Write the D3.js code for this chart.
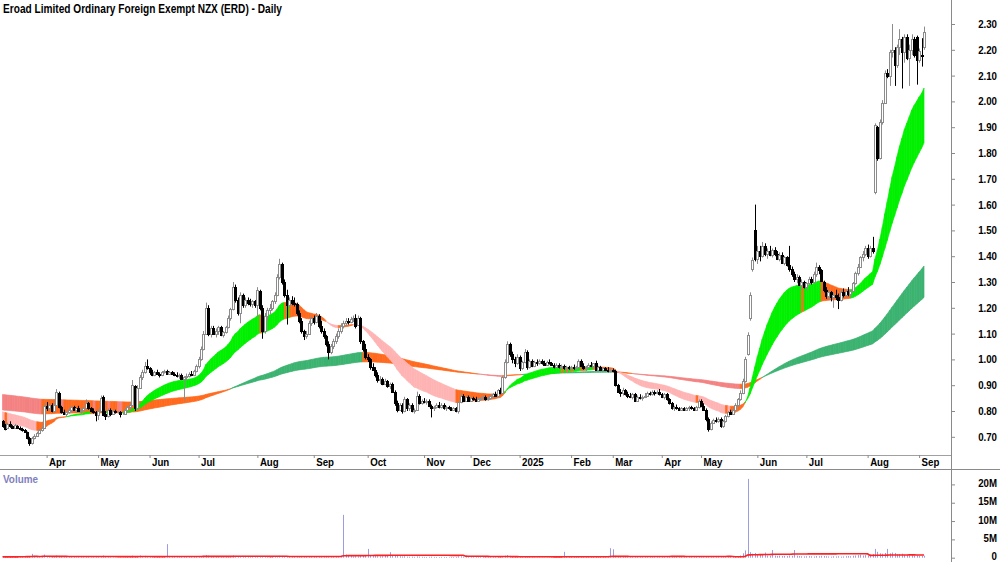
<!DOCTYPE html>
<html>
<head>
<meta charset="utf-8">
<script src="https://cdn.jsdelivr.net/npm/d3@7"></script>
<style>
body { margin: 0; background: #fff; }
svg { display: block; }
text { font-family: "Liberation Sans", Arial, sans-serif; font-weight: bold; }
</style>
</head>
<body>
<script>
const width = 1000,
      height = 562,
      axisX = 951,
      priceBottom = 455,
      volTop = 469;

const title = "Eroad Limited Ordinary Foreign Exempt NZX (ERD) - Daily";

const open = [
0.760,0.740,0.735,0.750,0.740,0.735,0.740,0.735,0.730,0.725,
0.720,0.695,0.675,0.695,0.705,0.715,0.725,0.735,0.820,0.810,
0.825,0.800,0.825,0.870,0.815,0.795,0.790,0.795,0.805,0.815,
0.805,0.810,0.800,0.805,0.810,0.830,0.810,0.800,0.795,0.785,
0.800,0.855,0.790,0.780,0.805,0.790,0.800,0.795,0.795,0.790,
0.790,0.805,0.815,0.825,0.895,0.810,0.890,0.930,0.950,0.975,
0.965,0.950,0.940,0.950,0.945,0.940,0.950,0.955,0.945,0.950,
0.945,0.940,0.935,0.940,0.925,0.930,0.935,0.945,0.940,0.955,
0.975,1.000,1.040,1.100,1.200,1.100,1.120,1.100,1.110,1.125,
1.095,1.105,1.125,1.160,1.195,1.280,1.230,1.180,1.250,1.210,
1.230,1.220,1.215,1.225,1.210,1.265,1.200,1.110,1.170,1.190,
1.200,1.225,1.250,1.320,1.370,1.300,1.250,1.210,1.230,1.220,
1.215,1.180,1.150,1.110,1.090,1.100,1.140,1.160,1.145,1.170,
1.130,1.110,1.090,1.060,1.030,1.050,1.070,1.090,1.110,1.130,
1.140,1.150,1.145,1.155,1.160,1.135,1.160,1.070,1.040,1.010,
1.000,0.970,0.960,0.940,0.920,0.925,0.905,0.915,0.895,0.905,
0.875,0.830,0.805,0.825,0.800,0.845,0.810,0.825,0.800,0.805,
0.860,0.830,0.840,0.835,0.840,0.820,0.810,0.815,0.825,0.815,
0.825,0.810,0.815,0.810,0.805,0.810,0.800,0.835,0.860,0.840,
0.855,0.840,0.850,0.845,0.840,0.845,0.850,0.855,0.845,0.850,
0.860,0.865,0.860,0.880,0.870,0.930,0.990,1.060,1.020,1.000,
0.985,1.010,0.965,0.990,1.030,0.970,0.995,0.975,0.990,0.985,
0.995,0.985,0.980,0.990,0.985,0.980,0.970,0.980,0.970,0.975,
0.965,0.970,0.965,0.970,0.965,0.970,0.995,0.975,0.965,0.970,
0.980,0.975,0.985,0.960,0.970,0.960,0.965,0.960,0.955,0.960,
0.955,0.900,0.875,0.870,0.880,0.865,0.860,0.855,0.865,0.840,
0.855,0.850,0.855,0.860,0.870,0.865,0.875,0.870,0.875,0.865,
0.855,0.865,0.845,0.830,0.810,0.815,0.810,0.805,0.810,0.805,
0.810,0.815,0.810,0.805,0.815,0.840,0.820,0.805,0.770,0.730,
0.755,0.765,0.760,0.770,0.740,0.760,0.780,0.795,0.790,0.805,
0.825,0.845,0.870,0.915,1.020,1.160,1.350,1.500,1.390,1.420,
1.400,1.440,1.410,1.420,1.405,1.425,1.410,1.390,1.405,1.375,
1.395,1.365,1.350,1.330,1.310,1.320,1.290,1.300,1.280,1.295,
1.310,1.300,1.330,1.360,1.345,1.300,1.270,1.245,1.260,1.240,
1.250,1.240,1.230,1.260,1.250,1.265,1.255,1.265,1.295,1.335,
1.360,1.395,1.410,1.430,1.400,1.430,1.650,1.900,1.780,1.920,
1.995,2.110,2.100,2.190,2.200,2.140,2.210,2.240,2.190,2.250,
2.170,2.200,2.240,2.250,2.160,2.180,2.210];

const high = [
0.765,0.750,0.755,0.760,0.745,0.750,0.745,0.740,0.735,0.730,
0.720,0.700,0.700,0.710,0.720,0.730,0.740,0.830,0.835,0.830,
0.830,0.830,0.885,0.875,0.820,0.805,0.800,0.810,0.820,0.820,
0.815,0.820,0.810,0.815,0.845,0.835,0.815,0.810,0.800,0.810,
0.860,0.860,0.800,0.810,0.810,0.805,0.805,0.800,0.800,0.795,
0.810,0.820,0.830,0.920,0.900,0.900,0.940,0.960,0.990,1.000,
0.970,0.960,0.955,0.960,0.950,0.955,0.960,0.960,0.955,0.955,
0.950,0.950,0.945,0.945,0.935,0.945,0.950,0.955,0.960,0.980,
1.010,1.050,1.110,1.220,1.210,1.130,1.130,1.120,1.130,1.130,
1.110,1.130,1.170,1.200,1.300,1.290,1.240,1.260,1.255,1.240,
1.240,1.235,1.230,1.230,1.280,1.270,1.210,1.180,1.200,1.215,
1.230,1.260,1.330,1.390,1.375,1.310,1.270,1.240,1.245,1.240,
1.220,1.190,1.160,1.115,1.110,1.150,1.170,1.170,1.180,1.175,
1.150,1.120,1.095,1.070,1.060,1.080,1.100,1.120,1.140,1.150,
1.160,1.160,1.165,1.170,1.175,1.170,1.165,1.075,1.060,1.020,
1.005,0.985,0.970,0.950,0.935,0.930,0.925,0.920,0.910,0.910,
0.880,0.840,0.830,0.830,0.855,0.850,0.830,0.830,0.810,0.875,
0.865,0.845,0.850,0.845,0.845,0.825,0.820,0.830,0.835,0.830,
0.830,0.820,0.820,0.815,0.815,0.815,0.840,0.870,0.865,0.860,
0.860,0.855,0.855,0.855,0.850,0.855,0.860,0.860,0.855,0.865,
0.870,0.875,0.885,0.890,0.935,1.000,1.070,1.065,1.030,1.010,
1.020,1.015,0.995,1.040,1.035,1.000,1.000,0.995,1.000,1.000,
1.000,0.995,0.995,1.000,0.990,0.985,0.985,0.985,0.980,0.980,
0.975,0.975,0.975,0.980,0.975,1.000,1.000,0.985,0.975,0.985,
0.990,0.985,0.995,0.975,0.975,0.970,0.970,0.970,0.965,0.965,
0.960,0.905,0.885,0.890,0.885,0.875,0.870,0.870,0.870,0.860,
0.865,0.860,0.870,0.875,0.875,0.880,0.880,0.880,0.885,0.870,
0.870,0.870,0.850,0.835,0.820,0.825,0.815,0.815,0.815,0.815,
0.820,0.820,0.815,0.820,0.845,0.845,0.830,0.810,0.775,0.760,
0.770,0.775,0.775,0.775,0.765,0.785,0.800,0.805,0.810,0.830,
0.850,0.880,0.925,1.010,1.105,1.260,1.395,1.600,1.440,1.440,
1.455,1.450,1.430,1.440,1.430,1.435,1.420,1.415,1.415,1.400,
1.400,1.440,1.360,1.340,1.330,1.325,1.310,1.305,1.300,1.320,
1.320,1.340,1.375,1.365,1.350,1.305,1.280,1.270,1.265,1.260,
1.270,1.255,1.270,1.275,1.270,1.280,1.270,1.300,1.340,1.370,
1.400,1.420,1.440,1.445,1.440,1.475,1.915,1.905,1.930,2.005,
2.120,2.125,2.200,2.300,2.210,2.220,2.280,2.250,2.260,2.260,
2.220,2.260,2.250,2.255,2.205,2.245,2.290];

const low = [
0.735,0.725,0.730,0.735,0.730,0.730,0.730,0.725,0.720,0.715,
0.690,0.665,0.670,0.690,0.700,0.710,0.720,0.730,0.800,0.800,
0.795,0.795,0.820,0.810,0.790,0.785,0.780,0.790,0.795,0.800,
0.795,0.800,0.790,0.800,0.805,0.805,0.795,0.790,0.760,0.765,
0.795,0.780,0.765,0.775,0.780,0.785,0.790,0.790,0.775,0.785,
0.785,0.800,0.805,0.820,0.800,0.805,0.885,0.920,0.945,0.960,
0.940,0.935,0.935,0.940,0.930,0.935,0.945,0.940,0.940,0.940,
0.935,0.930,0.925,0.920,0.840,0.920,0.930,0.935,0.935,0.950,
0.965,0.995,1.035,1.095,1.090,1.085,1.095,1.085,1.095,1.090,
1.085,1.100,1.120,1.150,1.190,1.220,1.170,1.140,1.200,1.200,
1.210,1.205,1.200,1.200,1.165,1.190,1.080,1.100,1.150,1.175,
1.190,1.215,1.245,1.310,1.290,1.240,1.135,1.200,1.210,1.205,
1.170,1.140,1.100,1.075,1.080,1.095,1.130,1.135,1.140,1.120,
1.100,1.080,1.050,1.000,1.020,1.040,1.060,1.080,1.100,1.120,
1.130,1.135,1.140,1.145,1.120,1.130,1.060,1.030,1.000,0.990,
0.960,0.955,0.930,0.910,0.905,0.900,0.900,0.890,0.885,0.870,
0.820,0.795,0.800,0.790,0.795,0.800,0.800,0.795,0.790,0.800,
0.825,0.825,0.830,0.825,0.815,0.775,0.800,0.810,0.810,0.810,
0.805,0.800,0.805,0.800,0.800,0.795,0.790,0.830,0.835,0.835,
0.835,0.835,0.840,0.835,0.835,0.840,0.845,0.840,0.840,0.845,
0.850,0.855,0.855,0.865,0.865,0.925,0.985,1.010,0.985,0.970,
0.980,0.955,0.960,0.985,0.960,0.965,0.970,0.970,0.975,0.980,
0.980,0.975,0.975,0.980,0.975,0.965,0.965,0.965,0.960,0.960,
0.955,0.960,0.960,0.960,0.960,0.965,0.970,0.960,0.955,0.965,
0.970,0.965,0.955,0.955,0.955,0.955,0.955,0.950,0.950,0.950,
0.895,0.870,0.855,0.860,0.860,0.850,0.850,0.845,0.835,0.835,
0.845,0.840,0.850,0.855,0.860,0.860,0.860,0.865,0.860,0.850,
0.845,0.840,0.825,0.805,0.800,0.805,0.800,0.800,0.800,0.800,
0.800,0.805,0.800,0.800,0.810,0.815,0.800,0.760,0.720,0.725,
0.750,0.755,0.755,0.735,0.735,0.755,0.775,0.785,0.785,0.800,
0.815,0.840,0.865,0.910,1.015,1.150,1.340,1.380,1.370,1.380,
1.395,1.400,1.390,1.400,1.395,1.400,1.385,1.380,1.370,1.365,
1.360,1.340,1.320,1.300,1.295,1.285,1.270,1.275,1.265,1.285,
1.290,1.295,1.320,1.330,1.300,1.260,1.235,1.230,1.225,1.200,
1.230,1.195,1.225,1.240,1.240,1.245,1.240,1.260,1.290,1.325,
1.355,1.380,1.400,1.390,1.395,1.410,1.640,1.770,1.775,1.910,
1.990,2.090,2.060,2.170,2.060,2.130,2.180,2.050,2.150,2.160,
2.060,2.180,2.170,2.065,2.150,2.135,2.200];

const close = [
0.740,0.730,0.750,0.740,0.735,0.745,0.735,0.730,0.725,0.720,
0.695,0.675,0.695,0.705,0.715,0.725,0.735,0.820,0.810,0.825,
0.800,0.825,0.875,0.815,0.795,0.790,0.795,0.805,0.815,0.805,
0.810,0.800,0.805,0.810,0.830,0.810,0.800,0.795,0.785,0.800,
0.850,0.785,0.780,0.805,0.790,0.800,0.795,0.795,0.790,0.790,
0.805,0.815,0.825,0.900,0.810,0.890,0.930,0.950,0.975,0.965,
0.950,0.940,0.950,0.945,0.940,0.950,0.955,0.945,0.950,0.945,
0.940,0.935,0.940,0.925,0.930,0.935,0.945,0.940,0.955,0.975,
1.000,1.040,1.100,1.200,1.100,1.120,1.100,1.110,1.125,1.095,
1.105,1.125,1.160,1.195,1.280,1.230,1.180,1.250,1.210,1.230,
1.220,1.215,1.225,1.210,1.270,1.200,1.110,1.170,1.190,1.200,
1.225,1.250,1.320,1.370,1.300,1.250,1.210,1.230,1.220,1.215,
1.180,1.150,1.110,1.090,1.100,1.140,1.160,1.145,1.170,1.130,
1.110,1.090,1.060,1.030,1.050,1.070,1.090,1.110,1.130,1.140,
1.150,1.145,1.155,1.160,1.130,1.160,1.070,1.040,1.010,1.000,
0.970,0.960,0.940,0.920,0.925,0.905,0.915,0.895,0.905,0.875,
0.830,0.805,0.825,0.800,0.845,0.810,0.825,0.800,0.805,0.860,
0.830,0.840,0.835,0.840,0.820,0.810,0.815,0.825,0.815,0.825,
0.810,0.815,0.810,0.805,0.810,0.800,0.835,0.860,0.840,0.855,
0.840,0.850,0.845,0.840,0.845,0.850,0.855,0.845,0.850,0.860,
0.865,0.860,0.880,0.870,0.930,0.990,1.060,1.020,1.000,0.985,
1.010,0.965,0.990,1.030,0.970,0.995,0.975,0.990,0.985,0.995,
0.985,0.980,0.990,0.985,0.980,0.970,0.980,0.970,0.975,0.965,
0.970,0.965,0.970,0.965,0.970,0.995,0.975,0.965,0.970,0.980,
0.975,0.985,0.960,0.970,0.960,0.965,0.960,0.955,0.960,0.955,
0.900,0.875,0.870,0.880,0.865,0.860,0.855,0.865,0.840,0.855,
0.850,0.855,0.860,0.870,0.865,0.875,0.870,0.875,0.865,0.855,
0.865,0.845,0.830,0.810,0.815,0.810,0.805,0.810,0.805,0.810,
0.815,0.810,0.805,0.815,0.840,0.820,0.805,0.770,0.730,0.755,
0.765,0.760,0.770,0.740,0.760,0.780,0.795,0.790,0.805,0.825,
0.845,0.870,0.915,1.000,1.095,1.250,1.385,1.390,1.420,1.400,
1.440,1.410,1.420,1.405,1.425,1.410,1.390,1.405,1.375,1.395,
1.365,1.350,1.330,1.310,1.320,1.290,1.300,1.280,1.295,1.310,
1.300,1.330,1.360,1.345,1.305,1.270,1.245,1.260,1.240,1.250,
1.240,1.230,1.260,1.250,1.265,1.255,1.265,1.295,1.335,1.360,
1.395,1.410,1.430,1.400,1.430,1.420,1.910,1.780,1.920,1.995,
2.110,2.100,2.190,2.200,2.140,2.210,2.240,2.190,2.250,2.170,
2.200,2.240,2.180,2.160,2.195,2.175,2.270];

// volume in millions of shares
const volume = [
0.25,0.18,0.30,0.22,0.15,0.35,0.20,0.28,0.40,0.30,
0.45,0.35,1.05,0.50,0.30,0.25,0.40,0.85,0.45,0.30,
0.20,0.25,0.60,0.35,0.20,0.15,0.18,0.22,0.30,0.20,
0.15,0.25,0.18,0.20,0.40,0.22,0.15,0.20,0.35,0.25,
0.45,0.60,0.30,0.20,0.15,0.12,0.10,0.08,0.12,0.10,
0.15,0.20,0.25,0.55,0.40,0.35,0.60,0.45,0.50,0.30,
0.25,0.20,0.30,0.18,0.22,0.25,0.30,3.70,0.40,0.25,
0.20,0.18,0.25,0.20,0.45,0.22,0.18,0.20,0.25,0.30,
0.35,0.45,0.50,0.70,0.55,0.30,0.25,0.28,0.30,0.22,
0.20,0.25,0.35,0.40,0.60,0.45,0.35,0.40,0.30,0.25,
0.22,0.20,0.25,0.18,0.40,0.30,0.45,0.30,0.25,0.22,
0.25,0.30,0.40,0.50,0.45,0.35,0.40,0.25,0.20,0.22,
0.30,0.35,0.40,0.30,0.25,0.28,0.22,0.20,0.25,0.30,
0.28,0.30,0.35,0.45,0.30,0.25,0.22,0.25,0.30,11.70,
0.90,0.60,0.45,0.35,0.40,0.35,0.55,0.50,0.45,2.40,
0.60,0.50,0.45,0.40,0.35,0.40,0.50,0.45,1.50,0.60,
0.50,0.45,0.40,0.35,0.40,0.30,0.28,0.30,0.25,0.35,
0.30,0.25,0.22,0.20,0.25,0.30,0.22,0.20,0.18,0.22,
0.20,0.18,0.15,0.20,0.18,0.22,0.35,0.40,0.30,0.25,
0.22,0.20,0.25,0.18,0.20,0.22,0.25,0.20,0.18,0.22,
0.20,0.25,0.30,0.25,0.45,0.55,0.70,0.50,0.35,0.30,
0.25,0.30,0.15,0.35,0.30,0.20,0.15,0.12,0.10,0.12,
0.10,0.08,0.10,0.12,0.15,0.12,0.10,0.15,0.12,1.60,
0.25,0.20,0.22,0.18,0.20,0.30,0.25,0.20,0.22,0.18,
0.20,0.22,0.30,0.25,0.20,0.22,0.18,0.25,2.60,2.30,
0.50,0.40,0.35,0.30,0.25,0.28,0.22,0.25,0.30,0.22,
0.20,0.25,0.18,0.22,0.20,0.25,0.22,0.18,0.20,0.25,
0.22,0.25,0.30,0.28,0.22,0.20,0.18,0.20,0.22,0.18,
0.20,0.22,0.18,0.20,0.28,0.25,0.30,0.40,0.45,0.35,
0.30,0.25,0.28,0.35,0.30,0.28,0.32,0.30,0.35,0.40,
0.45,0.60,1.20,2.00,21.50,1.50,1.10,1.30,0.90,0.80,
0.70,1.40,0.60,0.55,2.10,0.60,0.50,0.55,0.45,0.50,
0.45,0.60,0.50,2.10,0.55,0.45,0.40,0.35,0.40,0.45,
0.40,0.35,0.45,0.40,0.50,0.45,0.40,0.35,0.30,0.40,
0.35,0.40,0.30,0.35,0.40,0.45,0.40,0.55,0.60,0.70,
0.80,0.60,0.70,0.65,0.90,1.00,2.40,1.60,1.20,1.10,
1.30,2.40,1.20,1.40,1.30,0.90,1.00,1.10,0.80,0.70,
0.60,0.70,0.50,0.60,0.45,0.50,0.55];

const monthLabels = ["Apr", "May", "Jun", "Jul", "Aug", "Sep", "Oct", "Nov", "Dec",
                     "2025", "Feb", "Mar", "Apr", "May", "Jun", "Jul", "Aug", "Sep"];
const monthIndex = [18, 39, 60, 80, 104, 127, 149, 172, 191, 211, 232, 249, 269, 285, 308, 328, 353, 374];

const priceTicks = [0.70, 0.80, 0.90, 1.00, 1.10, 1.20, 1.30, 1.40, 1.50, 1.60,
                    1.70, 1.80, 1.90, 2.00, 2.10, 2.20, 2.30];
const volumeTicks = [0, 5, 10, 15, 20];

// moving average ribbons: periods and their values at the first bar
const shortPeriods = [22, 42];
const longPeriods = [150, 230];
const shortSeeds = [0.750, 0.800];
const longSeeds = [0.805, 0.865];
const volumeAvgPeriod = 50;

const N = close.length;

function ema(values, period, seed) {
    let a = 2 / (period + 1), e = seed;
    return values.map(function (v) { e = e + a * (v - e); return e; });
}

function bandState(fast, slow) {
    return fast.map(function (f, i) {
        let rising = i > 0 && f > fast[i - 1];
        if (f > slow[i] && rising) return "up";
        if (f < slow[i] && !rising) return "down";
        return "mixed";
    });
}

function squeeze(sel, k) {
    sel.each(function () {
        let w = this.getComputedTextLength();
        d3.select(this).attr("textLength", w * k).attr("lengthAdjust", "spacingAndGlyphs");
    });
}

function init() {
    let svg = d3.select("body")
        .append("svg")
        .attr("width", width)
        .attr("height", height);

    let x = d3.scaleLinear().domain([0, N - 1]).range([2.5, 924]);
    let y = d3.scaleLinear().domain([0.70, 2.30]).range([436.8, 24]);
    let yv = d3.scaleLinear().domain([0, 20]).range([557.7, 484.4]);

    svg.append("clipPath").attr("id", "priceClip")
        .append("rect").attr("x", 0).attr("y", 0).attr("width", axisX).attr("height", priceBottom);

    let plot = svg.append("g").attr("clip-path", "url(#priceClip)");

    // ribbons
    function drawBand(fast, slow, colors) {
        let st = bandState(fast, slow);
        let area = d3.area()
            .x(function (i) { return x(i); })
            .y0(function (i) { return y(slow[i]); })
            .y1(function (i) { return y(fast[i]); });
        let g = plot.append("g");
        for (let i = 1; i < N; i++) {
            g.append("path")
                .attr("d", area([i - 1, i]))
                .attr("fill", colors[st[i]])
                .attr("stroke", colors[st[i]])
                .attr("stroke-width", 0.7);
        }
    }

    let longFast = ema(close, longPeriods[0], longSeeds[0]),
        longSlow = ema(close, longPeriods[1], longSeeds[1]),
        shortFast = ema(close, shortPeriods[0], shortSeeds[0]),
        shortSlow = ema(close, shortPeriods[1], shortSeeds[1]);

    drawBand(longFast, longSlow, {up: "#3cb371", down: "#f48282", mixed: "#ff6a1e"});
    drawBand(shortFast, shortSlow, {up: "#00f000", down: "#ffb4b4", mixed: "#ff6a1e"});

    // candles
    let idx = d3.range(N);
    let px = function (i) { return Math.round(x(i)); };
    let isUp = function (i) { return close[i] >= open[i]; };

    plot.selectAll(".wick")
        .data(idx)
        .enter().append("line")
        .attr("class", "wick")
        .attr("x1", function (i) { return px(i) + 0.5; })
        .attr("x2", function (i) { return px(i) + 0.5; })
        .attr("y1", function (i) { return y(high[i]); })
        .attr("y2", function (i) { return y(low[i]); })
        .attr("stroke", function (i) { return isUp(i) ? "#8c8c8c" : "#000"; })
        .attr("stroke-width", 1);

    plot.selectAll(".body")
        .data(idx)
        .enter().append("rect")
        .attr("class", "body")
        .attr("x", function (i) { return px(i) - 0.5; })
        .attr("width", 2)
        .attr("y", function (i) { return Math.round(y(Math.max(open[i], close[i]))) + 0.5; })
        .attr("height", function (i) {
            return Math.max(0, Math.round(y(Math.min(open[i], close[i]))) - Math.round(y(Math.max(open[i], close[i]))));
        })
        .attr("fill", function (i) { return isUp(i) ? "#fff" : "#000"; })
        .attr("stroke", function (i) { return isUp(i) ? "#8c8c8c" : "#000"; })
        .attr("stroke-width", 1);

    // volume
    svg.selectAll(".vol")
        .data(idx)
        .enter().append("line")
        .attr("class", "vol")
        .attr("x1", function (i) { return px(i) + 0.5; })
        .attr("x2", function (i) { return px(i) + 0.5; })
        .attr("y1", yv(0))
        .attr("y2", function (i) { return yv(volume[i]); })
        .attr("stroke", "#9c9ce0")
        .attr("stroke-width", 1);

    let volAvg = volume.map(function (v, i) {
        return d3.mean(volume.slice(Math.max(0, i - volumeAvgPeriod + 1), i + 1));
    });
    let volLine = d3.line()
        .x(function (i) { return x(i); })
        .y(function (i) { return yv(volAvg[i]); });
    svg.append("path")
        .attr("d", volLine(idx))
        .attr("fill", "none")
        .attr("stroke", "#ff2020")
        .attr("stroke-width", 1.6);

    // frame lines
    svg.append("line")
        .attr("x1", 0).attr("x2", axisX).attr("y1", priceBottom + 0.5).attr("y2", priceBottom + 0.5)
        .attr("stroke", "#a0a0a0");
    svg.append("line")
        .attr("x1", 0).attr("x2", width).attr("y1", volTop + 0.5).attr("y2", volTop + 0.5)
        .attr("stroke", "#8a8a8a");
    svg.append("line")
        .attr("x1", axisX + 0.5).attr("x2", axisX + 0.5).attr("y1", 0).attr("y2", height)
        .attr("stroke", "#8a8a8a");

    // axes
    let yAxis = d3.axisRight(y).tickValues(priceTicks).tickFormat(d3.format(".2f")).tickSize(4);
    let yAxisG = svg.append("g")
        .attr("transform", "translate(" + axisX + ",0)")
        .call(yAxis);

    let vAxis = d3.axisRight(yv).tickValues(volumeTicks)
        .tickFormat(function (d) { return d ? d + "M" : "0"; }).tickSize(4);
    let vAxisG = svg.append("g")
        .attr("transform", "translate(" + axisX + ",0)")
        .call(vAxis);

    [yAxisG, vAxisG].forEach(function (g) {
        g.select(".domain").remove();
        g.selectAll(".tick line").attr("stroke", "#8a8a8a");
        g.selectAll(".tick text")
            .attr("x", 46)
            .attr("text-anchor", "end")
            .attr("fill", "#000")
            .style("font-size", "11px");
    });
    vAxisG.selectAll(".tick text").attr("dy", "0.2em");

    let xAxis = d3.axisBottom(x).tickValues(monthIndex)
        .tickFormat(function (d, i) { return monthLabels[i]; }).tickSize(3);
    let xAxisG = svg.append("g")
        .attr("transform", "translate(0," + priceBottom + ")")
        .call(xAxis);
    xAxisG.select(".domain").remove();
    xAxisG.selectAll(".tick line").attr("stroke", "#8a8a8a");
    xAxisG.selectAll(".tick text")
        .attr("x", 2)
        .attr("y", 3)
        .attr("text-anchor", "start")
        .attr("fill", "#000")
        .style("font-size", "11px");

    squeeze(svg.selectAll(".tick text"), 0.88);

    svg.append("text")
        .attr("x", 3)
        .attr("y", 13)
        .style("font-size", "12.5px")
        .attr("textLength", 279)
        .attr("lengthAdjust", "spacingAndGlyphs")
        .text(title);

    let volLabel = svg.append("text")
        .attr("x", 3)
        .attr("y", 483)
        .attr("fill", "#8080c0")
        .style("font-size", "11px")
        .text("Volume");
    squeeze(volLabel, 0.9);
}

init();
</script>
</body>
</html>
